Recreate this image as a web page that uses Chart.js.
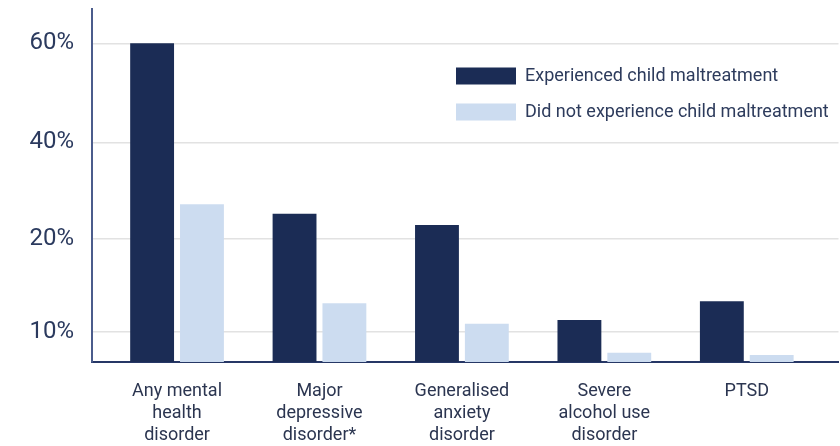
<!DOCTYPE html>
<html>
<head>
<meta charset="utf-8">
<script src="https://cdn.jsdelivr.net/npm/chart.js@4"></script>
<style>
  html, body { margin: 0; padding: 0; background: #ffffff; }
  #wrap { width: 840px; height: 446px; position: relative; }
</style>
</head>
<body>
<div id="wrap"><canvas id="c" width="840" height="446"></canvas></div>
<script>
// ---- data ----
const categories = [
  ['Any mental', 'health', 'disorder'],
  ['Major', 'depressive', 'disorder*'],
  ['Generalised', 'anxiety', 'disorder'],
  ['Severe', 'alcohol use', 'disorder'],
  ['PTSD']
];
const seriesNames = ['Experienced child maltreatment', 'Did not experience child maltreatment'];
const experienced = [60, 25.2, 22.9, 11.3, 13.3];
const notExperienced = [27.2, 13.1, 10.9, 3.1, 2.3];
const yTickValues = [10, 20, 40, 60];
const yTickLabels = ['10%', '20%', '40%', '60%'];

// ---- the value axis of the original is not evenly spaced: piecewise mapping ----
const yBreakValues = [0, 10, 20, 40, 60];
const yBreakFractions = [0, 0.0850, 0.3484, 0.6224, 0.9028];

class PiecewiseLinearScale extends Chart.LinearScale {
  _toDecimal(v) {
    const b = yBreakValues, f = yBreakFractions;
    let i = 1;
    while (i < b.length - 1 && v > b[i]) i++;
    return f[i - 1] + (v - b[i - 1]) / (b[i] - b[i - 1]) * (f[i] - f[i - 1]);
  }
  getPixelForValue(value) {
    if (value === null || value === undefined || isNaN(value)) return NaN;
    return this.getPixelForDecimal(this._toDecimal(value));
  }
  getValueForPixel(pixel) {
    const d = this.getDecimalForPixel(pixel);
    const b = yBreakValues, f = yBreakFractions;
    let i = 1;
    while (i < f.length - 1 && d > f[i]) i++;
    return b[i - 1] + (d - f[i - 1]) / (f[i] - f[i - 1]) * (b[i] - b[i - 1]);
  }
}
PiecewiseLinearScale.id = 'piecewiseLinear';
PiecewiseLinearScale.defaults = Chart.LinearScale.defaults;
Chart.register(PiecewiseLinearScale);

const legendPlacer = {
  id: 'legendPlacer',
  afterLayout(chart) {
    const lg = chart.legend;
    if (!lg) return;
    const pad = lg.options.labels.padding;
    lg.left = 456 - pad; lg.right = lg.left + lg.width;
    lg.top = 67 - pad; lg.bottom = lg.top + lg.height;
  }
};

Chart.defaults.font.family = 'Roboto, "Liberation Sans", sans-serif';
Chart.defaults.color = '#2b3557';

const ctx = document.getElementById('c');
new Chart(ctx, {
  type: 'bar',
  data: {
    datasets: [
      {
        label: seriesNames[0],
        data: experienced.map((v, i) => ({ x: i, y: v })),
        backgroundColor: '#1b2c55',
        categoryPercentage: 0.70,
        barPercentage: 0.88
      },
      {
        label: seriesNames[1],
        data: notExperienced.map((v, i) => ({ x: i, y: v })),
        backgroundColor: '#ccdcf0',
        categoryPercentage: 0.70,
        barPercentage: 0.88
      }
    ]
  },
  options: {
    responsive: false,
    animation: false,
    events: [],
    layout: { padding: { top: 9, right: 1.5, left: 0, bottom: 0 } },
    plugins: {
      tooltip: { enabled: false },
      legend: {
        position: 'chartArea',
        align: 'start',
        labels: {
          boxWidth: 60,
          boxHeight: 17,
          padding: 18,
          color: '#2d3b5c',
          font: { size: 18 }
        }
      }
    },
    scales: {
      x: {
        type: 'linear',
        min: -0.597,
        max: 4.644,
        offset: false,
        grid: { display: false, drawTicks: false },
        border: { display: true, color: '#263766', width: 2 },
        afterBuildTicks: (scale) => { scale.ticks = categories.map((_, i) => ({ value: i })); },
        afterFit: (scale) => { scale.height = 84; scale.paddingLeft = 0; scale.paddingRight = 0; },
        ticks: {
          padding: 19,
          maxRotation: 0,
          autoSkip: false,
          color: '#2b3550',
          font: { size: 18, lineHeight: 1.22 },
          callback: (value) => categories[value]
        }
      },
      y: {
        type: 'piecewiseLinear',
        min: 0,
        max: 67,
        grid: { color: '#e2e2e2', lineWidth: 1.5, drawTicks: false },
        border: { display: true, color: '#4b5c8c', width: 2 },
        afterBuildTicks: (scale) => { scale.ticks = yTickValues.map(v => ({ value: v })); },
        afterFit: (scale) => { scale.width = 92; scale.paddingTop = 0; scale.paddingBottom = 0; },
        ticks: {
          padding: 18,
          color: '#2b3a5e',
          font: { size: 24 },
          callback: (value) => yTickLabels[yTickValues.indexOf(value)]
        }
      }
    }
  },
  plugins: [legendPlacer]
});
</script>
</body>
</html>
